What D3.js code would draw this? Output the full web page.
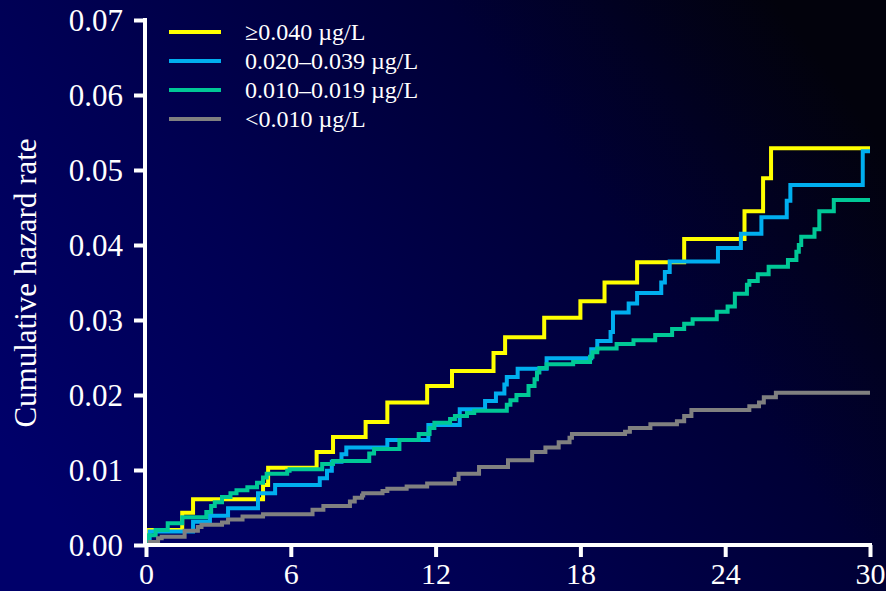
<!DOCTYPE html>
<html><head><meta charset="utf-8">
<script src="https://cdn.jsdelivr.net/npm/d3@7/dist/d3.min.js"></script>
<style>html,body{margin:0;padding:0;background:#000040;}svg{display:block;}</style>
</head><body>
<script>
// ---- data ----
const xTicks = [0, 6, 12, 18, 24, 30];
const yTicks = [0, 0.01, 0.02, 0.03, 0.04, 0.05, 0.06, 0.07];
const seriesNames = ["\u22650.040 \u00b5g/L", "0.020\u20130.039 \u00b5g/L", "0.010\u20130.019 \u00b5g/L", "<0.010 \u00b5g/L"];
const seriesColors = ["#ffff00", "#00aeef", "#00c896", "#808080"];
const yellowSteps = [[0,0],[0.05,0.002],[1.5,0.0043],[1.95,0.0061],[4.85,0.008],[5.06,0.0103],[7.07,0.0124],[7.75,0.0144],[9.1,0.0164],[10.0,0.019],[11.65,0.0212],[12.68,0.0232],[14.4,0.0256],[14.88,0.0277],[16.5,0.0303],[18.0,0.0325],[19.0,0.035],[20.35,0.0377],[22.3,0.0408],[24.8,0.0445],[25.57,0.0489],[25.9,0.0529],[30,0.0529]];
const blueSteps = [[0,0],[0.15,0.0018],[1.95,0.0031],[2.65,0.0039],[3.4,0.0049],[4.64,0.0069],[5.35,0.008],[7.2,0.0089],[7.5,0.0099],[7.7,0.0111],[8.1,0.0121],[8.3,0.013],[10.0,0.014],[11.7,0.016],[13.0,0.0181],[14.05,0.0192],[14.5,0.0202],[14.85,0.0214],[14.95,0.0224],[15.4,0.0235],[16.6,0.0249],[18.45,0.0261],[18.7,0.0272],[19.25,0.0284],[19.35,0.031],[20.0,0.0322],[20.35,0.0336],[21.35,0.035],[21.5,0.0364],[21.7,0.0378],[23.7,0.0396],[24.65,0.0415],[25.5,0.0437],[26.55,0.0459],[26.7,0.048],[29.7,0.0525],[30,0.0525]];
const greenSteps = [[0,0],[0.1,0.0013],[0.4,0.002],[0.9,0.0029],[1.5,0.0037],[2.5,0.0044],[2.7,0.0052],[2.85,0.0057],[3.15,0.0064],[3.5,0.0069],[3.75,0.0073],[4.2,0.0077],[4.6,0.0083],[4.85,0.009],[5.0,0.0095],[5.85,0.0099],[5.95,0.0101],[7.3,0.0108],[7.75,0.0112],[9.25,0.0122],[9.45,0.0128],[10.5,0.014],[11.3,0.0148],[11.75,0.0156],[11.95,0.0163],[12.6,0.0168],[12.8,0.0172],[13.3,0.0176],[13.6,0.0179],[14.95,0.0187],[15.1,0.0193],[15.35,0.02],[15.85,0.0212],[16.1,0.0221],[16.2,0.023],[16.3,0.0236],[16.6,0.0241],[17.7,0.0244],[18.4,0.0251],[18.5,0.0257],[18.7,0.0262],[19.5,0.0268],[20.2,0.0273],[21.1,0.028],[21.8,0.0288],[22.3,0.0295],[22.65,0.0301],[23.65,0.0311],[24.1,0.0318],[24.4,0.0335],[24.9,0.0347],[25.0,0.0352],[25.35,0.0361],[25.8,0.0371],[26.6,0.038],[26.95,0.0391],[27.05,0.04],[27.15,0.0411],[27.7,0.0421],[27.9,0.0445],[28.5,0.046],[30,0.046]];
const graySteps = [[0,0],[0.15,0.0004],[0.5,0.0009],[0.65,0.0011],[1.6,0.0019],[2.15,0.0024],[2.3,0.0027],[3.15,0.003],[3.4,0.0034],[4.0,0.0038],[4.85,0.0041],[6.9,0.0047],[7.35,0.0052],[8.45,0.0058],[8.65,0.0063],[8.95,0.0066],[9.0,0.0069],[9.8,0.0072],[10.0,0.0075],[10.8,0.0078],[11.65,0.0082],[12.8,0.0088],[12.95,0.0095],[13.8,0.0104],[15.0,0.0113],[16.0,0.0124],[16.55,0.013],[17.1,0.0137],[17.55,0.0143],[17.65,0.0148],[19.85,0.0151],[20.05,0.0156],[20.9,0.0161],[22.0,0.0165],[22.3,0.0172],[22.6,0.018],[25.0,0.0185],[25.4,0.019],[25.6,0.0197],[26.1,0.0203],[30,0.0203]];
const yTitle = "Cumulative hazard rate";

// ---- drawing ----
const W = 886, H = 591;
const svg = d3.select("body").append("svg").attr("width", W).attr("height", H);
const defs = svg.append("defs");
const grad = defs.append("linearGradient").attr("id", "bg")
  .attr("x1", 0).attr("y1", 0.75).attr("x2", 1).attr("y2", 0.25);
grad.append("stop").attr("offset", 0).attr("stop-color", "#00006a");
grad.append("stop").attr("offset", 0.35).attr("stop-color", "#000052");
grad.append("stop").attr("offset", 0.7).attr("stop-color", "#000036");
grad.append("stop").attr("offset", 1).attr("stop-color", "#02020c");
svg.append("rect").attr("width", W).attr("height", H).attr("fill", "url(#bg)");

const x = d3.scaleLinear().domain([0, 30]).range([146, 870]);
const y = d3.scaleLinear().domain([0, 0.07]).range([545, 20]);
const font = "'Liberation Serif', 'Times New Roman', serif";

const line = d3.line().x(d => x(d[0])).y(d => y(d[1])).curve(d3.curveStepAfter);
const allSteps = [yellowSteps, blueSteps, greenSteps, graySteps];
allSteps.forEach((s, i) => {
  svg.append("path").datum(s).attr("d", line)
    .attr("fill", "none").attr("stroke", seriesColors[i])
    .attr("stroke-width", 4).attr("stroke-linejoin", "miter");
});

// axes
const xAxis = svg.append("g").attr("transform", "translate(0,545)")
  .call(d3.axisBottom(x).tickValues(xTicks).tickSize(12).tickPadding(8).tickFormat(d3.format("d")));
const yAxis = svg.append("g").attr("transform", "translate(145,0)")
  .call(d3.axisLeft(y).tickValues(yTicks).tickSize(11).tickPadding(11).tickFormat(d3.format(".2f")));
[xAxis, yAxis].forEach(g => {
  g.select(".domain").attr("stroke", "#fff").attr("stroke-width", 4);
  g.selectAll(".tick line").attr("stroke", "#fff").attr("stroke-width", 4);
  g.selectAll(".tick text").attr("fill", "#fff").style("font-family", font).style("font-size", "31px");
});
xAxis.selectAll(".tick text").style("font-size", "30px");
xAxis.select(".domain").attr("d", "M" + (x(0) - 3) + ",0H" + (x(30) + 2));
yAxis.select(".domain").attr("d", "M0," + (y(0.07) - 2) + "V" + (y(0) + 2));
xAxis.selectAll(".tick text").attr("dy", "0").attr("y", 39);
yAxis.selectAll(".tick text").attr("dy", "0.34em");

svg.append("text").attr("transform", "translate(36,283) rotate(-90)")
  .attr("text-anchor", "middle").attr("fill", "#fff")
  .style("font-family", font).style("font-size", "31px").text(yTitle);

// legend
const lg = svg.append("g");
seriesNames.forEach((n, i) => {
  const ly = 32 + i * 29;
  lg.append("line").attr("x1", 169).attr("x2", 221).attr("y1", ly).attr("y2", ly)
    .attr("stroke", seriesColors[i]).attr("stroke-width", 4);
  lg.append("text").attr("x", 245).attr("y", ly + 8).attr("fill", "#fff")
    .style("font-family", font).style("font-size", "24px").text(n);
});
</script>
</body></html>
